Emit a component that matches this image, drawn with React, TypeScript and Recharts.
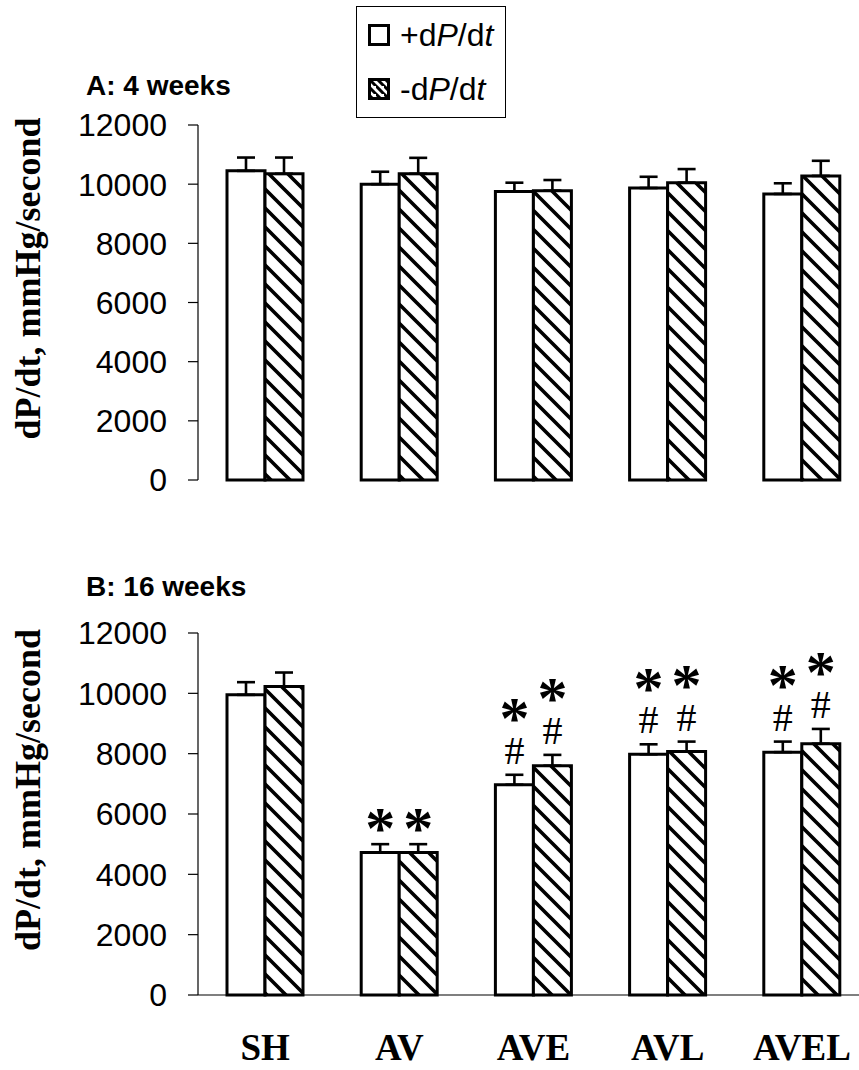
import React from 'react';
import { BarChart, Bar, XAxis, YAxis, ErrorBar, LabelList, Legend } from 'recharts';

const categories = ['SH', 'AV', 'AVE', 'AVL', 'AVEL'];
const yTicks = [0, 2000, 4000, 6000, 8000, 10000, 12000];

// Panel A: 4 weeks
const plusA = [10450, 10000, 9750, 9870, 9670];
const plusAErr = [450, 420, 300, 380, 360];
const minusA = [10350, 10350, 9780, 10050, 10280];
const minusAErr = [550, 540, 360, 460, 510];

// Panel B: 16 weeks
const plusB = [9950, 4720, 6970, 7980, 8050];
const plusBErr = [420, 280, 330, 330, 350];
const minusB = [10230, 4720, 7600, 8070, 8330];
const minusBErr = [460, 280, 360, 330, 490];

// significance marks, listed from bottom (nearest the bar) to top
const plusBMarks = ['', '*', '#*', '#*', '#*'];
const minusBMarks = ['', '*', '#*', '#*', '#*'];

const dataA = categories.map((name, i) => ({
  name,
  plus: plusA[i],
  minus: minusA[i],
  plusErr: [0, plusAErr[i]],
  minusErr: [0, minusAErr[i]],
}));

const dataB = categories.map((name, i) => ({
  name,
  plus: plusB[i],
  minus: minusB[i],
  plusErr: [0, plusBErr[i]],
  minusErr: [0, minusBErr[i]],
  plusMarks: plusBMarks[i],
  minusMarks: minusBMarks[i],
}));

const SANS = '"Liberation Sans", Arial, sans-serif';
const SERIF = '"Liberation Serif", "Times New Roman", serif';

const yLabel = (props: any) => {
  const vb = props.viewBox || {};
  const cx = (vb.x || 0) + 28;
  const cy = vb.y + vb.height / 2 - 24;
  return (
    <text
      x={cx}
      y={cy}
      transform={`rotate(-90, ${cx}, ${cy})`}
      textAnchor="middle"
      dominantBaseline="central"
      fontFamily={SERIF}
      fontWeight="bold"
      fontSize={36}
      fill="#000"
    >
      dP/dt, mmHg/second
    </text>
  );
};

const CatTick = (props: any) => {
  const { x, y, payload } = props;
  return (
    <text x={x} y={y} dy={65} textAnchor="middle" fontFamily={SERIF} fontWeight="bold" fontSize={37} fill="#000">
      {payload.value}
    </text>
  );
};

const STAR_FS = 60;
const HASH_FS = 40;

const makeMarks = (valKey: 'plus' | 'minus', errKey: 'plusErr' | 'minusErr') => (props: any) => {
  const vb = props.viewBox || props;
  const { x, y, width, height } = vb;
  const index = props.index;
  const row: any = dataB[index];
  const marks: string = row ? row[valKey === 'plus' ? 'plusMarks' : 'minusMarks'] : '';
  if (!marks) return null;
  const v = row[valKey];
  const e = row[errKey][1];
  const capY = y - (e * height) / v;
  const cx = x + width / 2;
  const chars = marks.split('');
  const items = chars.map((m, k) => ({ m, cy: capY - 24 - 41 * k })).reverse();
  return (
    <text textAnchor="middle" fontFamily={SERIF} fill="#000">
      {items.map((it, k) =>
        it.m === '*' ? (
          <tspan key={k} x={cx} y={it.cy + 0.47 * STAR_FS} fontSize={STAR_FS} fontWeight="bold">
            *
          </tspan>
        ) : (
          <tspan key={k} x={cx} y={it.cy + 13} fontSize={HASH_FS}>
            #
          </tspan>
        )
      )}
    </text>
  );
};

const LegendBox = (props: any) => {
  const payload = props.payload || [];
  const label = (key: string) =>
    key === 'minus' ? (
      <span>
        -d<i>P</i>/d<i>t</i>
      </span>
    ) : (
      <span>
        +d<i>P</i>/d<i>t</i>
      </span>
    );
  return (
    <div
      style={{
        boxSizing: 'border-box',
        width: 150,
        height: 112,
        border: '1.5px solid #000',
        background: '#fff',
        paddingLeft: 11,
        display: 'flex',
        flexDirection: 'column',
        justifyContent: 'center',
        fontFamily: SANS,
        fontSize: 32,
        color: '#000',
      }}
    >
      {payload.map((entry: any, i: number) => {
        const key = entry.dataKey || (i === 0 ? 'plus' : 'minus');
        return (
          <div key={i} style={{ display: 'flex', alignItems: 'center', height: 54, lineHeight: 1 }}>
            <svg width={22} height={22} style={{ flex: 'none' }}>
              <defs>
                <pattern id={`legHatch${i}`} patternUnits="userSpaceOnUse" width={8} height={8}>
                  <rect width={8} height={8} fill="#fff" />
                  <path d="M-2,-2 L10,10 M-6,2 L2,10 M6,-6 L14,2" stroke="#000" strokeWidth={3} />
                </pattern>
              </defs>
              <rect
                x={1.5}
                y={1.5}
                width={19}
                height={19}
                fill={key === 'minus' ? `url(#legHatch${i})` : '#fff'}
                stroke="#000"
                strokeWidth={3}
              />
            </svg>
            <span style={{ marginLeft: 10 }}>{label(key)}</span>
          </div>
        );
      })}
    </div>
  );
};

const yAxisProps = {
  width: 198,
  domain: [0, 12000] as [number, number],
  ticks: yTicks,
  interval: 0 as const,
  tickSize: 10,
  tickMargin: 21,
  tick: { fontSize: 32, fill: '#000', fontFamily: SANS },
  axisLine: { stroke: '#000', strokeWidth: 1.2 },
  tickLine: { stroke: '#000', strokeWidth: 1.2 },
};

const titleStyle: React.CSSProperties = {
  position: 'absolute',
  left: 86,
  fontFamily: SANS,
  fontWeight: 'bold',
  fontSize: 28,
  lineHeight: 1,
  whiteSpace: 'nowrap',
};

export default function App() {
  return (
    <div
      style={{
        position: 'absolute',
        left: 0,
        top: 0,
        width: 859,
        height: 1070,
        overflow: 'hidden',
        background: '#fff',
      }}
    >
      <svg width={0} height={0} style={{ position: 'absolute' }}>
        <defs>
          <pattern id="hatch" patternUnits="userSpaceOnUse" width={19} height={19}>
            <rect width={19} height={19} fill="#fff" />
            <path d="M-3,-3 L22,22 M-9,10 L9,28 M10,-9 L28,9" stroke="#000" strokeWidth={3.6} />
          </pattern>
        </defs>
      </svg>

      <div style={{ ...titleStyle, top: 72 }}>A: 4 weeks</div>
      <div style={{ ...titleStyle, top: 573 }}>B: 16 weeks</div>

      <div style={{ position: 'absolute', left: 0, top: 0 }}>
        <BarChart
          width={880}
          height={500}
          data={dataA}
          margin={{ top: 125, right: 11, bottom: 20, left: 0 }}
          barGap={0}
          barSize={38}
        >
          <XAxis dataKey="name" tick={false} tickLine={false} height={0} axisLine={{ stroke: '#000', strokeWidth: 1.2 }} />
          <YAxis {...yAxisProps} label={yLabel} />
          <Legend
            layout="vertical"
            verticalAlign="middle"
            align="center"
            width={150}
            height={112}
            wrapperStyle={{ left: 356, top: 6, width: 150, height: 112 }}
            content={LegendBox}
          />
          <Bar dataKey="plus" name="+dP/dt" fill="#fff" stroke="#000" strokeWidth={3} isAnimationActive={false}>
            <ErrorBar dataKey="plusErr" width={9} stroke="#000" strokeWidth={2.6} direction="y" />
          </Bar>
          <Bar dataKey="minus" name="-dP/dt" fill="url(#hatch)" stroke="#000" strokeWidth={3} isAnimationActive={false}>
            <ErrorBar dataKey="minusErr" width={9} stroke="#000" strokeWidth={2.6} direction="y" />
          </Bar>
        </BarChart>
      </div>

      <div style={{ position: 'absolute', left: 0, top: 500 }}>
        <BarChart
          width={880}
          height={570}
          data={dataB}
          margin={{ top: 133, right: 11, bottom: 0, left: 0 }}
          barGap={0}
          barSize={38}
        >
          <XAxis
            dataKey="name"
            height={75}
            tickLine={false}
            tickSize={0}
            tickMargin={0}
            interval={0}
            tick={CatTick}
            axisLine={{ stroke: '#000', strokeWidth: 1.2 }}
          />
          <YAxis {...yAxisProps} label={yLabel} />
          <Bar dataKey="plus" name="+dP/dt" fill="#fff" stroke="#000" strokeWidth={3} isAnimationActive={false}>
            <ErrorBar dataKey="plusErr" width={9} stroke="#000" strokeWidth={2.6} direction="y" />
            <LabelList dataKey="plusMarks" content={makeMarks('plus', 'plusErr')} />
          </Bar>
          <Bar dataKey="minus" name="-dP/dt" fill="url(#hatch)" stroke="#000" strokeWidth={3} isAnimationActive={false}>
            <ErrorBar dataKey="minusErr" width={9} stroke="#000" strokeWidth={2.6} direction="y" />
            <LabelList dataKey="minusMarks" content={makeMarks('minus', 'minusErr')} />
          </Bar>
        </BarChart>
      </div>
    </div>
  );
}
